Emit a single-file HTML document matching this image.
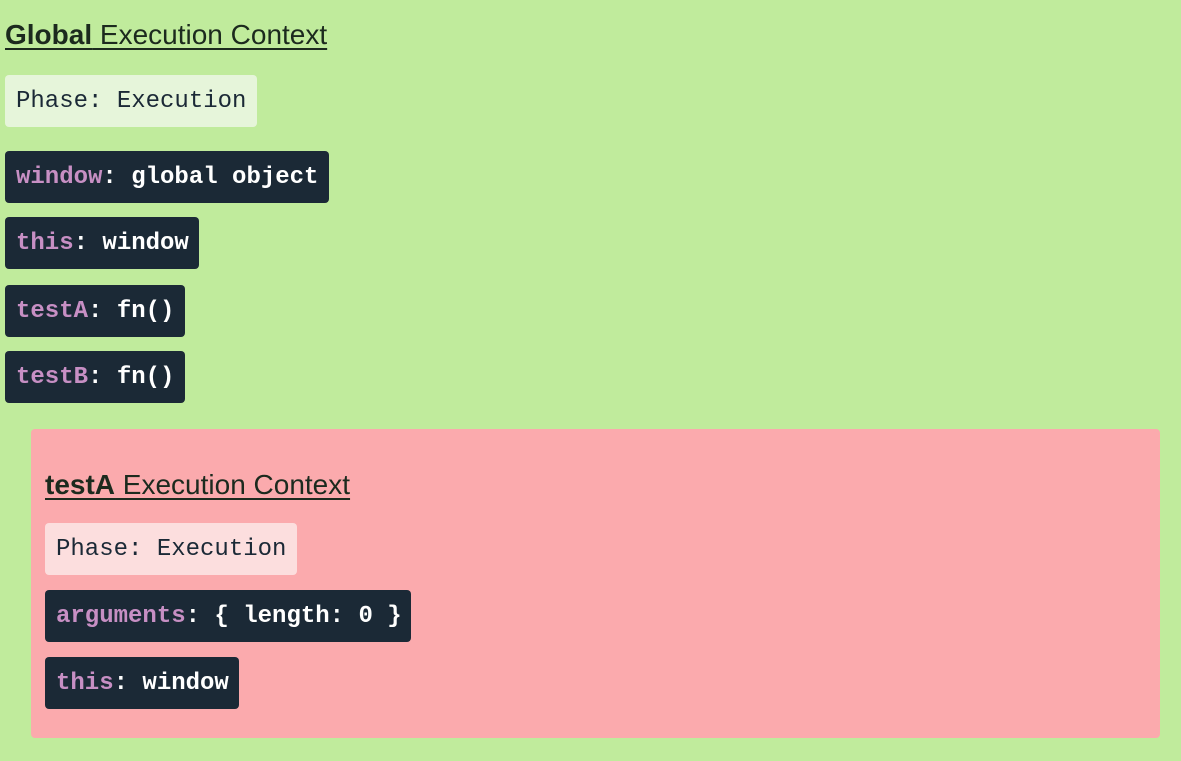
<!DOCTYPE html>
<html><head><style>
body{margin:0;width:1181px;height:761px;background:#c0eb9c;position:relative;overflow:hidden;font-family:"Liberation Sans",sans-serif}
.t{position:absolute;font-size:28px;color:#1c2a1e;text-decoration:underline;text-decoration-thickness:2px;text-underline-offset:4px;white-space:nowrap;line-height:32px}
.b{position:absolute;height:52px;line-height:54px;padding:0 11px;border-radius:4px;font-family:"Liberation Mono",monospace;font-size:24px;white-space:nowrap;box-sizing:border-box}
.d{background:#1b2936;color:#fff;font-weight:bold}
.d span{color:#c78fc4}
.l1{background:#e6f5da;color:#1b2936}
.l2{background:#fcdede;color:#1b2936}
</style></head><body>
<div class="t" style="left:5px;top:19px"><b>Global</b> Execution Context</div>
<div class="b l1" style="left:5px;top:75px;width:252px">Phase: Execution</div>
<div class="b d" style="left:5px;top:151px;width:324px"><span>window</span>: global object</div>
<div class="b d" style="left:5px;top:217px;width:194px"><span>this</span>: window</div>
<div class="b d" style="left:5px;top:285px;width:180px"><span>testA</span>: fn()</div>
<div class="b d" style="left:5px;top:351px;width:180px"><span>testB</span>: fn()</div>
<div style="position:absolute;left:31px;top:429px;width:1129px;height:309px;background:#fbaaad;border-radius:4px"></div>
<div class="t" style="left:45px;top:469px"><b>testA</b> Execution Context</div>
<div class="b l2" style="left:45px;top:523px;width:252px">Phase: Execution</div>
<div class="b d" style="left:45px;top:590px;width:366px"><span>arguments</span>: { length: 0 }</div>
<div class="b d" style="left:45px;top:657px;width:194px"><span>this</span>: window</div>
</body></html>
